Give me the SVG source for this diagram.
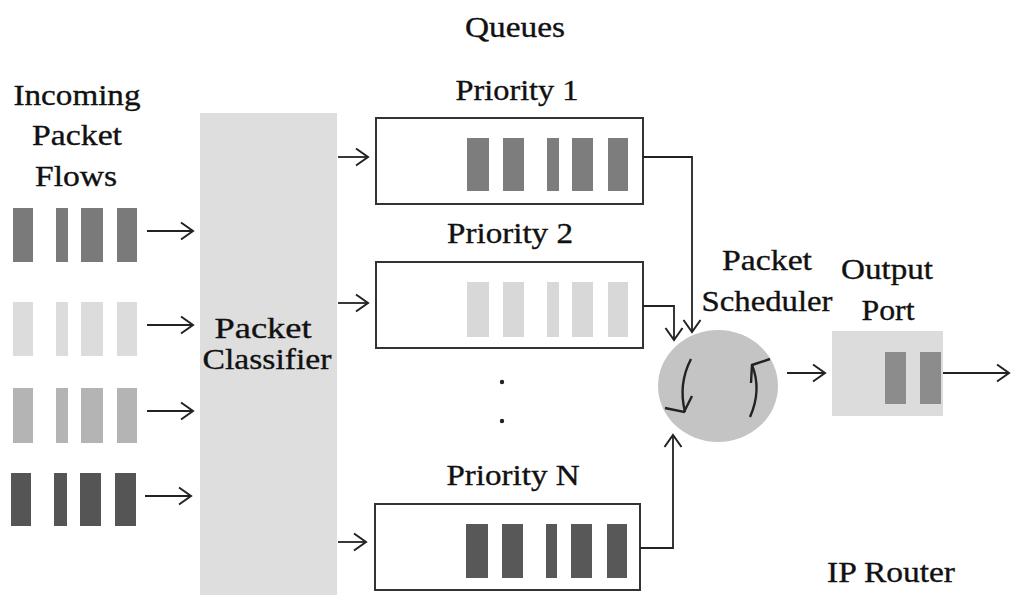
<svg xmlns="http://www.w3.org/2000/svg" width="1011" height="595" viewBox="0 0 1011 595">
<defs>
<marker id="ah" markerUnits="userSpaceOnUse" markerWidth="16" markerHeight="22" refX="13" refY="10" orient="auto">
<path d="M1,1.5 L13,10 L1,18.5" fill="none" stroke="#222" stroke-width="2"/>
</marker>
<style>
text{font-family:"Liberation Serif","Times New Roman",serif;font-size:30px;fill:#111;stroke:#111;stroke-width:0.35;text-anchor:middle}
.box{fill:#fff;stroke:#333;stroke-width:2}
.c{fill:none;stroke:#222;stroke-width:2.4}
.a{fill:none;stroke:#222;stroke-width:1.8;marker-end:url(#ah)}
.f1{fill:#7a7a7a}.f2{fill:#dcdcdc}.f3{fill:#b4b4b4}.f4{fill:#555}
.q1{fill:#7d7d7d}.q2{fill:#d8d8d8}.qn{fill:#585858}
</style>
</defs>
<rect width="1011" height="595" fill="#fff"/>

<g id="title-queues"><text x="515" y="37" textLength="100" lengthAdjust="spacingAndGlyphs">Queues</text></g>

<g id="incoming-flows">
<text x="77" y="105" textLength="127" lengthAdjust="spacingAndGlyphs">Incoming</text>
<text x="77" y="145" textLength="90" lengthAdjust="spacingAndGlyphs">Packet</text>
<text x="76" y="186" textLength="82" lengthAdjust="spacingAndGlyphs">Flows</text>
<g class="f1"><rect x="13" y="208" width="20" height="54"/><rect x="56" y="208" width="12" height="54"/><rect x="81" y="208" width="22" height="54"/><rect x="117" y="208" width="20" height="54"/></g>
<g class="f2"><rect x="13" y="302" width="20" height="54"/><rect x="56" y="302" width="12" height="54"/><rect x="81" y="302" width="22" height="54"/><rect x="117" y="302" width="20" height="54"/></g>
<g class="f3"><rect x="13" y="388" width="20" height="55"/><rect x="56" y="388" width="12" height="55"/><rect x="81" y="388" width="22" height="55"/><rect x="117" y="388" width="20" height="55"/></g>
<g class="f4"><rect x="11" y="473" width="20" height="53"/><rect x="54" y="473" width="13" height="53"/><rect x="80" y="473" width="21" height="53"/><rect x="115" y="473" width="21" height="53"/></g>
</g>

<g id="packet-classifier">
<rect x="200" y="113" width="137" height="482" fill="#dedede"/>
<text x="263" y="338" textLength="97" lengthAdjust="spacingAndGlyphs">Packet</text>
<text x="267" y="369" textLength="129" lengthAdjust="spacingAndGlyphs">Classifier</text>
</g>

<g id="queue-priority-1">
<text x="517" y="100" textLength="123" lengthAdjust="spacingAndGlyphs">Priority 1</text>
<rect class="box" x="376" y="118" width="267" height="86"/>
<g class="q1"><rect x="467" y="138" width="22" height="53"/><rect x="503" y="138" width="21" height="53"/><rect x="547" y="138" width="12" height="53"/><rect x="572" y="138" width="21" height="53"/><rect x="608" y="138" width="20" height="53"/></g>
</g>

<g id="queue-priority-2">
<text x="510" y="243" textLength="126" lengthAdjust="spacingAndGlyphs">Priority 2</text>
<rect class="box" x="376" y="262" width="267" height="86"/>
<g class="q2"><rect x="467" y="282" width="22" height="55"/><rect x="503" y="282" width="21" height="55"/><rect x="547" y="282" width="12" height="55"/><rect x="572" y="282" width="21" height="55"/><rect x="608" y="282" width="20" height="55"/></g>
</g>

<g id="ellipsis"><circle cx="502" cy="382" r="2.2" fill="#222"/><circle cx="502" cy="421" r="2.2" fill="#222"/></g>

<g id="queue-priority-n">
<text x="513" y="485" textLength="133" lengthAdjust="spacingAndGlyphs">Priority N</text>
<rect class="box" x="375" y="504" width="265" height="86"/>
<g class="qn"><rect x="466" y="524" width="22" height="54"/><rect x="502" y="524" width="21" height="54"/><rect x="546" y="524" width="11" height="54"/><rect x="571" y="524" width="21" height="54"/><rect x="607" y="524" width="20" height="54"/></g>
</g>

<g id="packet-scheduler">
<text x="767" y="270" textLength="90" lengthAdjust="spacingAndGlyphs">Packet</text>
<text x="767" y="311" textLength="131" lengthAdjust="spacingAndGlyphs">Scheduler</text>
<ellipse cx="718" cy="386" rx="60" ry="56" fill="#c4c4c4"/>
<path class="c" d="M691,359 Q678,384 685,412"/>
<path class="c" d="M665,408 L684,412 L692,396"/>
<path class="c" d="M750,417 Q762,390 752,365"/>
<path class="c" d="M770,359 L752,365 L751,383"/>
</g>

<g id="output-port">
<text x="887" y="279" textLength="92" lengthAdjust="spacingAndGlyphs">Output</text>
<text x="888" y="320" textLength="53" lengthAdjust="spacingAndGlyphs">Port</text>
<rect x="832" y="331" width="111" height="85" fill="#dcdcdc"/>
<rect x="885" y="352" width="21" height="52" fill="#8c8c8c"/>
<rect x="920" y="352" width="21" height="52" fill="#8c8c8c"/>
</g>

<g id="ip-router"><text x="891" y="582" textLength="128" lengthAdjust="spacingAndGlyphs">IP Router</text></g>

<g id="connectors">
<line class="a" x1="147" y1="231" x2="193" y2="231"/>
<line class="a" x1="147" y1="325" x2="193" y2="325"/>
<line class="a" x1="147" y1="411" x2="193" y2="411"/>
<line class="a" x1="145" y1="496" x2="191" y2="496"/>
<line class="a" x1="338" y1="157" x2="368" y2="157"/>
<line class="a" x1="338" y1="303" x2="368" y2="303"/>
<line class="a" x1="338" y1="542" x2="366" y2="542"/>
<polyline class="a" points="643,157 692,157 692,332"/>
<polyline class="a" points="643,306 674,306 674,340"/>
<polyline class="a" points="640,548 673,548 673,435"/>
<line class="a" x1="787" y1="373" x2="825" y2="373"/>
<line class="a" x1="943" y1="373" x2="1009" y2="373"/>
</g>
</svg>
